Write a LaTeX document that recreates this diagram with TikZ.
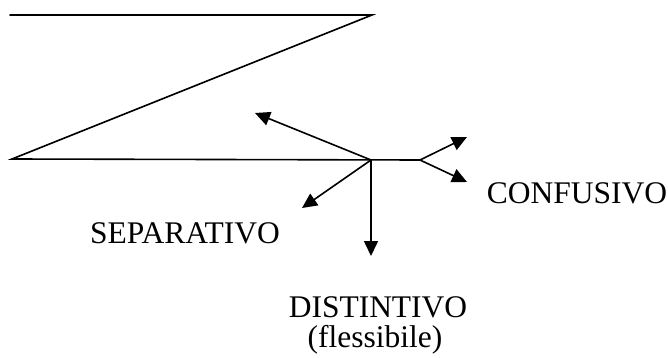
\documentclass[tikz,border=0pt]{standalone}
\usepackage{fontspec}
\setmainfont{Liberation Serif}
\usetikzlibrary{arrows.meta}
\begin{document}
\begin{tikzpicture}
% Z-shaped path with branching arrows
\def\unitsz{1pt}
\providecommand{\zLineWidth}{1.6pt}
\providecommand{\zTipLength}{15pt}
\providecommand{\zTipWidth}{14pt}
\tikzset{
  zline/.style={draw=black, line width=\zLineWidth, line cap=round, line join=miter},
  zarrow/.style={zline, -{Triangle[length=\zTipLength, width=\zTipWidth]}},
  zlabel/.style={anchor=base, inner sep=0pt, font=\fontsize{31.5}{34}\selectfont}
}
\begin{scope}[x=\unitsz, y=-\unitsz]
  % Frame
  \useasboundingbox (0,0) rectangle (668,358);
  % Points of the path
  \coordinate (ztopleft)  at (10,15);
  \coordinate (ztopright) at (372,15);
  \coordinate (zbotleft)  at (12,159);
  \coordinate (hub)       at (371,160);
  \coordinate (fork)      at (420,160);
  % Arrow tips
  \coordinate (tipback)   at (255,113);
  \coordinate (tipsep)    at (302,208);
  \coordinate (tipdist)   at (371,256);
  \coordinate (tipconfup) at (467,137);
  \coordinate (tipconfdn) at (467,182);
  % Z path
  \draw[zline] (ztopleft) -- (ztopright) -- (zbotleft) -- (fork);
  % Arrows from the hub
  \draw[zarrow] (hub) -- (tipback);
  \draw[zarrow] (hub) -- (tipsep);
  \draw[zarrow] (hub) -- (tipdist);
  % Arrows from the fork
  \draw[zarrow] (fork) -- (tipconfup);
  \draw[zarrow] (fork) -- (tipconfdn);
  % Labels
  \node[zlabel] (sep)  at (185,243) {SEPARATIVO};
  \node[zlabel] (conf) at (577,203) {CONFUSIVO};
  \node[zlabel] (dist) at (378,317) {DISTINTIVO};
  \node[zlabel] (flex) at (375,347) {(flessibile)};
\end{scope}
\end{tikzpicture}
\end{document}
